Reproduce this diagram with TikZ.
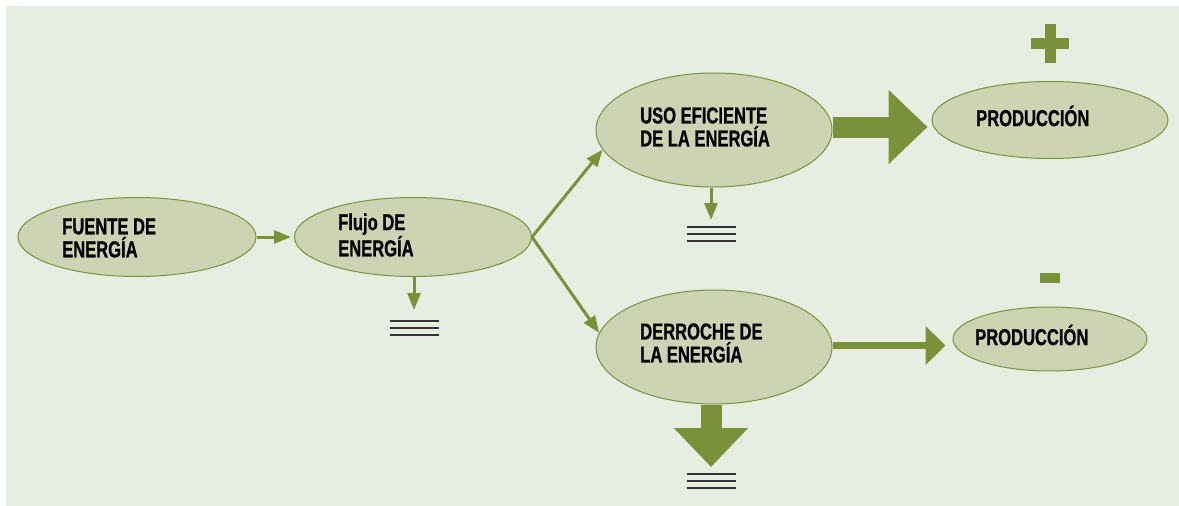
\documentclass[tikz,border=0pt]{standalone}
\usepackage{fontspec}
\setmainfont{Liberation Sans}[FakeStretch=0.72,BoldFeatures={FakeBold=0.8}]
\usetikzlibrary{arrows.meta,positioning,shapes.geometric}
\definecolor{bggreen}{HTML}{E8EDE2}
\definecolor{ellfill}{HTML}{CCD4B4}
\definecolor{olive}{HTML}{7A913A}
\definecolor{eqgray}{HTML}{333333}

\begin{document}
\begin{tikzpicture}
[x=1pt,y=-1pt,
every node/.style={inner sep=0pt},
blob/.style={ellipse,draw=olive,fill=ellfill,line width=1pt},
lbl/.style={anchor=west,align=left,font=\bfseries\fontsize{23}{23}\selectfont},
thinarrow/.style={olive,line width=3pt,-{Triangle[length=17pt,width=13pt]}},
midarrow/.style={olive,line width=7pt,-{Triangle[length=20pt,width=38pt]}},
bigarrow/.style={olive,line width=21pt,-{Triangle[length=39pt,width=72pt]}},
eqline/.style={eqgray,line width=1.6pt},
sign/.style={fill=olive}]
\useasboundingbox (0,0) rectangle (1179,506);
\fill[bggreen] (6,6) rectangle (1179,506);

% ellipses
\node[blob,minimum width=238pt,minimum height=79pt] (fuente) at (137,237) {};
\node[blob,minimum width=237pt,minimum height=79pt] (flujo) at (413,237) {};
\node[blob,minimum width=236pt,minimum height=114pt] (uso) at (714,130) {};
\node[blob,minimum width=236pt,minimum height=114pt] (dero) at (714,347) {};
\node[blob,minimum width=236pt,minimum height=77pt] (prodA) at (1050,120) {};
\node[blob,minimum width=194pt,minimum height=64pt] (prodB) at (1050,339) {};

% texts
\node[lbl] (tfuente) at ([xshift=-75pt,yshift=-1pt]fuente.center) {FUENTE DE\\ENERGÍA};
\node[lbl] (tflujo) at ([xshift=-75pt,yshift=2pt]flujo.center) {Flujo DE\\ENERGÍA};
\node[lbl] (tuso) at ([xshift=-74pt,yshift=3pt]uso.center) {USO EFICIENTE\\DE LA ENERGÍA};
\node[lbl] (tdero) at ([xshift=-74pt,yshift=4pt]dero.center) {DERROCHE DE\\LA ENERGÍA};
\node[lbl] (tprodA) at ([xshift=-74pt,yshift=4pt]prodA.center) {PRODUCCIÓN};
\node[lbl] (tprodB) at ([xshift=-75pt,yshift=4pt]prodB.center) {PRODUCCIÓN};

% sinks
\foreach \n/\x/\y in {sinkA/414/321,sinkB/711/227,sinkC/711/474}{
  \coordinate (\n) at (\x,\y);
  \foreach \k in {0,7,14}
    \draw[eqline] ([xshift=-24.5pt,yshift=-\k pt]\n) -- ++(49,0);
}

% connectors
\draw[thinarrow] (fuente.east) -- ([xshift=-3pt]flujo.west);
\draw[thinarrow] (flujo.east) -- (uso.190);
\draw[thinarrow] (flujo.east) -- (dero.173);
\draw[thinarrow] (flujo.south -| sinkA) -- ([yshift=11pt]sinkA);
\draw[thinarrow] (uso.south -| sinkB) -- ([yshift=7pt]sinkB);
\draw[bigarrow] ([yshift=3pt]uso.east) -- ++(95,0);
\draw[midarrow] ([yshift=1.5pt]dero.east) -- ++(113,0);
\draw[bigarrow] (dero.south -| sinkC) -- ([yshift=7pt]sinkC);

% signs
\fill[sign] (1045,24) rectangle (1056,63);
\fill[sign] (1031,38) rectangle (1069,49);
\fill[sign] (1040,273) rectangle (1060,283);
\end{tikzpicture}
\end{document}
